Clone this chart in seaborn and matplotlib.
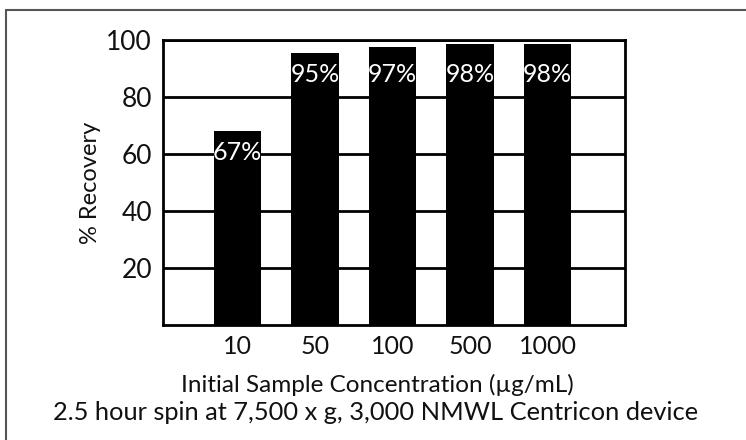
import matplotlib
matplotlib.use("Agg")
import matplotlib.pyplot as plt
from matplotlib.lines import Line2D
import seaborn as sns
import pandas as pd

categories = ["10", "50", "100", "500", "1000"]
recovery = [68, 95.5, 97.5, 98.5, 98.5]
bar_labels = ["67%", "95%", "97%", "98%", "98%"]
y_ticks = [20, 40, 60, 80, 100]

sns.set_theme(style="white")
plt.rcParams["font.family"] = ["Lato", "DejaVu Sans"]

df = pd.DataFrame({"conc": categories, "rec": recovery})

fig = plt.figure(figsize=(7.46, 4.4), dpi=100)
ax = fig.add_axes([163 / 746, 1 - 325 / 440, (625 - 163) / 746, (325 - 40) / 440])

sns.barplot(data=df, x="conc", y="rec", order=categories, color="black",
            saturation=1, width=0.61, ax=ax, edgecolor="black", linewidth=0)

ax.set_axisbelow(True)
ax.yaxis.grid(True, color="black", linewidth=2)
ax.xaxis.grid(False)
ax.set_ylim(0, 100)
ax.set_xlim(-0.96, 5.0)
ax.set_yticks(y_ticks)
ax.set_yticklabels([str(t) for t in y_ticks])
ax.tick_params(axis="y", length=0, pad=8, labelsize=19, labelcolor="#111")
ax.tick_params(axis="x", length=0, pad=7, labelsize=18, labelcolor="#111")
for s in ax.spines.values():
    s.set_visible(True)
    s.set_color("black")
    s.set_linewidth(2)

ax.set_xlabel("")
ax.set_ylabel("% Recovery", fontsize=17, color="#111", labelpad=4)

for i, (v, lab) in enumerate(zip(recovery, bar_labels)):
    ax.text(i, min(v - 7.5, 88), lab, ha="center", va="center",
            color="white", fontsize=18)

fig.text(377 / 746, 1 - 385 / 440, "Initial Sample Concentration (\u00b5g/mL)",
         ha="center", va="center", fontsize=17.5, color="#111")
fig.text(376 / 746, 1 - 412 / 440, "2.5 hour spin at 7,500 x g, 3,000 NMWL Centricon device",
         ha="center", va="center", fontsize=18.3, color="#111")

bc = "#555555"
fig.add_artist(Line2D([6 / 746, 1.0], [1 - 10 / 440, 1 - 10 / 440], transform=fig.transFigure,
                      color=bc, linewidth=1.5))
fig.add_artist(Line2D([6 / 746, 6 / 746], [0.0, 1 - 10 / 440], transform=fig.transFigure,
                      color=bc, linewidth=1.5))

fig.savefig("out.png", dpi=100, facecolor="white")
